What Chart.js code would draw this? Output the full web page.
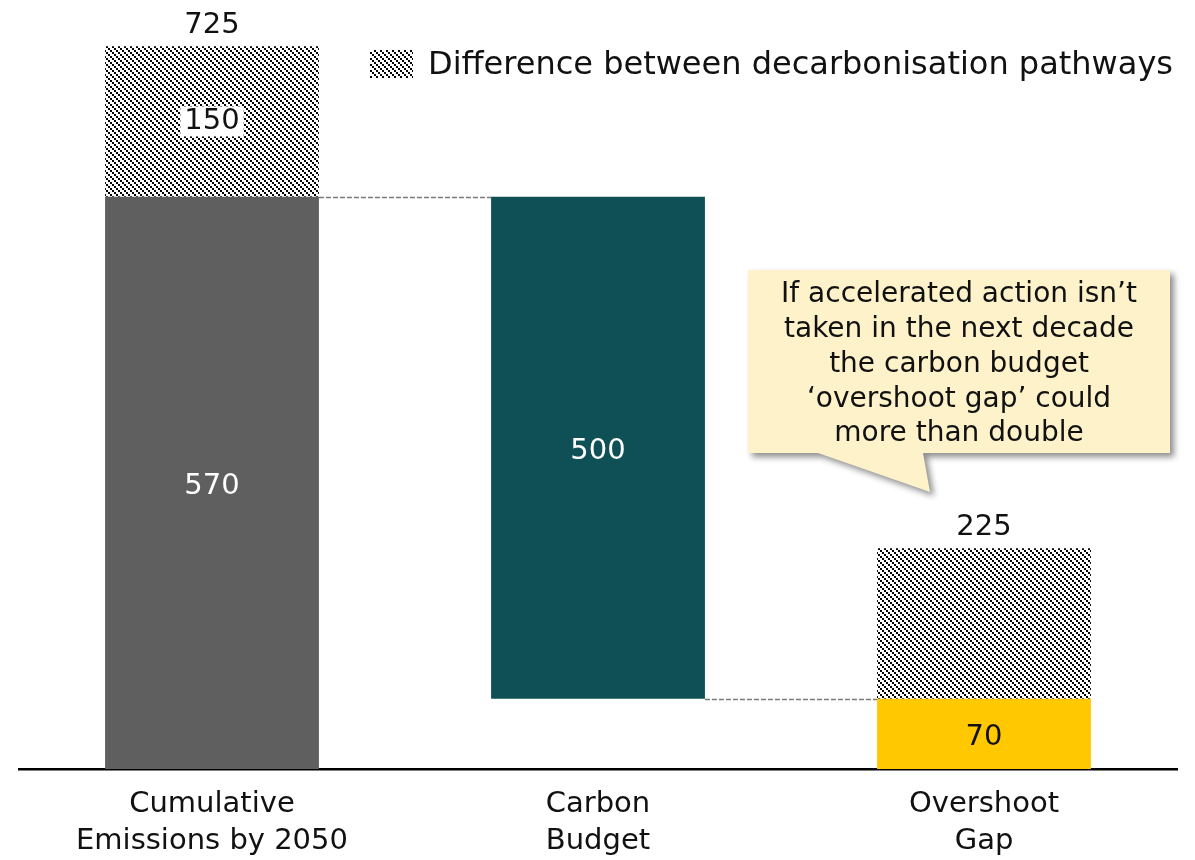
<!DOCTYPE html>
<html>
<head>
<meta charset="utf-8">
<script src="https://cdn.jsdelivr.net/npm/chart.js@4.4.1/dist/chart.umd.min.js"></script>
<style>
  html, body { margin: 0; padding: 0; background: #ffffff; }
  #wrap { width: 1195px; height: 860px; }
</style>
</head>
<body>
<div id="wrap"><canvas id="c" width="1195" height="860"></canvas></div>
<script>
// ---- data ----
const categories = [["Cumulative", "Emissions by 2050"], ["Carbon", "Budget"], ["Overshoot", "Gap"]];
const solidStart = [0, 70, 0];
const solidEnd = [570, 570, 70];
const solidLabels = ["570", "500", "70"];
const hatchStart = [570, null, 70];
const hatchEnd = [720, null, 220];
const hatchLabels = ["150", "", ""];
const totalLabels = ["725", "", "225"];
const solidColors = ["#5f5f5f", "#0e5055", "#ffc800"];
const solidLabelColors = ["#ffffff", "#ffffff", "#111111"];
const legendText = "Difference between decarbonisation pathways";
const calloutLines = ["If accelerated action isn\u2019t", "taken in the next decade", "the carbon budget", "\u2018overshoot gap\u2019 could", "more than double"];

const FONT = '"DejaVu Sans", "Noto Sans", sans-serif';

// hatch pattern: 2x2 blocks stepping diagonally (top-left to bottom-right)
function makeHatch() {
  const N = 6;
  const t = document.createElement('canvas');
  t.width = N; t.height = N;
  const g = t.getContext('2d');
  g.fillStyle = '#ffffff'; g.fillRect(0, 0, N, N);
  g.fillStyle = '#000000';
  for (let k = 0; k < 3; k++) g.fillRect(2 * k, 2 * k, 2, 2);
  return t;
}
const ctx0 = document.getElementById('c').getContext('2d');
const hatch = ctx0.createPattern(makeHatch(), 'repeat');

const solidData = solidStart.map((s, i) => [s, solidEnd[i]]);
const hatchData = hatchStart.map((s, i) => s === null ? null : [s, hatchEnd[i]]);

const overlay = {
  id: 'overlay',
  afterDatasetsDraw(chart) {
    const ctx = chart.ctx;
    const y = chart.scales.y;
    const m0 = chart.getDatasetMeta(0).data;
    const m1 = chart.getDatasetMeta(1).data;
    ctx.save();
    // connectors
    ctx.strokeStyle = '#7a7a7a';
    ctx.lineWidth = 1.5;
    ctx.setLineDash([5, 2]);
    for (let i = 0; i < m0.length - 1; i++) {
      const v = i === 0 ? solidEnd[0] : solidStart[1];
      const yy = Math.round(y.getPixelForValue(v)) + 0.5;
      ctx.beginPath();
      ctx.moveTo(m0[i].x + m0[i].width / 2, yy);
      ctx.lineTo(m0[i + 1].x - m0[i + 1].width / 2, yy);
      ctx.stroke();
    }
    ctx.setLineDash([]);
    ctx.textAlign = 'center';
    ctx.textBaseline = 'middle';
    ctx.font = '29px ' + FONT;
    // solid labels
    m0.forEach((b, i) => {
      const mid = y.getPixelForValue((solidStart[i] + solidEnd[i]) / 2);
      ctx.fillStyle = solidLabelColors[i];
      ctx.fillText(solidLabels[i], b.x, mid + 4);
    });
    // hatch labels with white box
    m1.forEach((b, i) => {
      if (!hatchLabels[i]) return;
      const mid = y.getPixelForValue((hatchStart[i] + hatchEnd[i]) / 2);
      const w = ctx.measureText(hatchLabels[i]).width;
      ctx.fillStyle = '#ffffff';
      ctx.fillRect(b.x - w / 2 - 4, mid - 15, w + 8, 30);
      ctx.fillStyle = '#111111';
      ctx.fillText(hatchLabels[i], b.x, mid);
    });
    // totals
    ctx.textBaseline = 'alphabetic';
    m1.forEach((b, i) => {
      if (!totalLabels[i]) return;
      const top = y.getPixelForValue(hatchEnd[i]);
      ctx.fillStyle = '#111111';
      ctx.fillText(totalLabels[i], b.x, top - 13);
    });
    // legend
    ctx.fillStyle = hatch;
    ctx.fillRect(370, 50, 43, 28);
    ctx.fillStyle = '#111111';
    ctx.textAlign = 'left';
    ctx.textBaseline = 'middle';
    ctx.font = '32px ' + FONT;
    ctx.fillText(legendText, 428, 66);
    // callout
    const bx = 748, by = 270, bw = 422, bh = 183;
    ctx.save();
    ctx.shadowColor = 'rgba(0,0,0,0.45)';
    ctx.shadowBlur = 6;
    ctx.shadowOffsetX = 4;
    ctx.shadowOffsetY = 4;
    ctx.fillStyle = '#fdf2c9';
    ctx.beginPath();
    ctx.moveTo(bx, by);
    ctx.lineTo(bx + bw, by);
    ctx.lineTo(bx + bw, by + bh);
    ctx.lineTo(923, by + bh);
    ctx.lineTo(930, 492);
    ctx.lineTo(818, by + bh);
    ctx.lineTo(bx, by + bh);
    ctx.closePath();
    ctx.fill();
    ctx.restore();
    ctx.fillStyle = '#111111';
    ctx.textAlign = 'center';
    ctx.font = '28px ' + FONT;
    calloutLines.forEach((l, k) => {
      ctx.fillText(l, 959, 295 + k * 34.8);
    });
    ctx.restore();
  }
};

new Chart(ctx0, {
  type: 'bar',
  data: {
    labels: categories,
    datasets: [
      { data: solidData, backgroundColor: solidColors, grouped: false, barPercentage: 0.554, categoryPercentage: 1, borderWidth: 0 },
      { data: hatchData, backgroundColor: hatch, grouped: false, barPercentage: 0.554, categoryPercentage: 1, borderWidth: 0 }
    ]
  },
  options: {
    responsive: false,
    animation: false,
    devicePixelRatio: 1,
    layout: { padding: { top: 10, left: 19, right: 18, bottom: 0 } },
    plugins: { legend: { display: false }, tooltip: { enabled: false } },
    scales: {
      x: {
        grid: { display: false, drawTicks: false },
        border: { display: true, color: '#000000', width: 2.5 },
        ticks: { font: { family: FONT, size: 29, lineHeight: 1.28 }, color: '#111111', padding: 17, maxRotation: 0 },
        afterFit(s) { s.height = 91; }
      },
      y: {
        display: false,
        min: 0,
        max: 756
      }
    }
  },
  plugins: [overlay]
});
</script>
</body>
</html>
